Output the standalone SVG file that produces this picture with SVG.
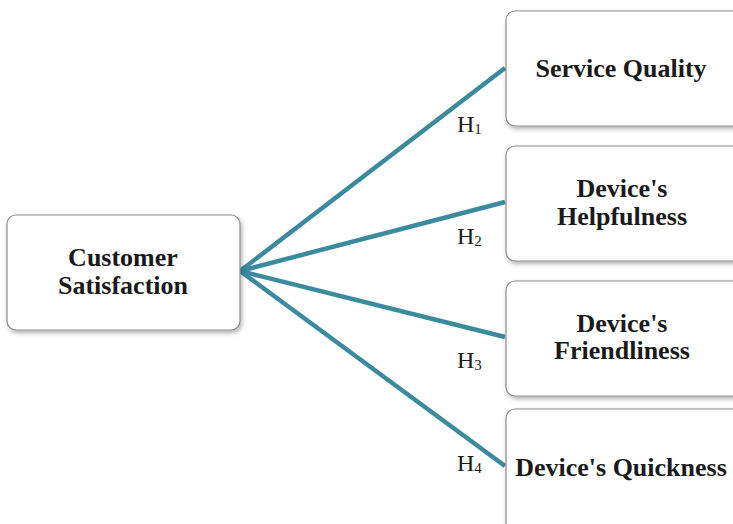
<svg xmlns="http://www.w3.org/2000/svg" width="733" height="524" viewBox="0 0 733 524">
<defs>
<filter id="sh" x="-10%" y="-10%" width="130%" height="130%">
<feDropShadow dx="1.5" dy="2.5" stdDeviation="2" flood-color="#000" flood-opacity="0.3"/>
</filter>
<style>
.box{fill:#fff;stroke:#8c8c8c;stroke-width:1.2;filter:url(#sh)}
.t{font-family:"Liberation Serif","Times New Roman",serif;font-weight:bold;font-size:26px;fill:#1a1a1a;text-anchor:middle}
.h{font-family:"Liberation Serif","Times New Roman",serif;font-size:24px;fill:#1a1a1a}
.c{stroke:#3b8a9d;stroke-width:4.5;fill:none;stroke-linecap:butt}
</style>
</defs>
<rect width="733" height="524" fill="#fff"/>
<g id="connectors">
<line class="c" x1="240" y1="271" x2="505" y2="68"/>
<line class="c" x1="240" y1="271" x2="505" y2="202"/>
<line class="c" x1="240" y1="271" x2="505" y2="337"/>
<line class="c" x1="240" y1="271" x2="505" y2="466"/>
<text class="h" x="457" y="132">H<tspan font-size="15" dy="2">1</tspan></text>
<text class="h" x="457" y="244">H<tspan font-size="15" dy="2">2</tspan></text>
<text class="h" x="457" y="368">H<tspan font-size="15" dy="2">3</tspan></text>
<text class="h" x="457" y="471">H<tspan font-size="15" dy="2">4</tspan></text>
</g>
<g id="customer-satisfaction">
<rect class="box" x="7" y="215" width="233" height="115" rx="9"/>
<text class="t" x="123" y="266">Customer</text>
<text class="t" x="123" y="294">Satisfaction</text>
</g>
<g id="service-quality">
<rect class="box" x="506" y="11" width="240" height="115" rx="9"/>
<text class="t" x="621" y="77">Service Quality</text>
</g>
<g id="helpfulness">
<rect class="box" x="506" y="146" width="240" height="115" rx="9"/>
<text class="t" x="622" y="197">Device's</text>
<text class="t" x="622" y="225">Helpfulness</text>
</g>
<g id="friendliness">
<rect class="box" x="506" y="281" width="240" height="115" rx="9"/>
<text class="t" x="622" y="332">Device's</text>
<text class="t" x="622" y="359">Friendliness</text>
</g>
<g id="quickness">
<rect class="box" x="506" y="409" width="240" height="130" rx="9"/>
<text class="t" x="621" y="476">Device's Quickness</text>
</g>
</svg>
